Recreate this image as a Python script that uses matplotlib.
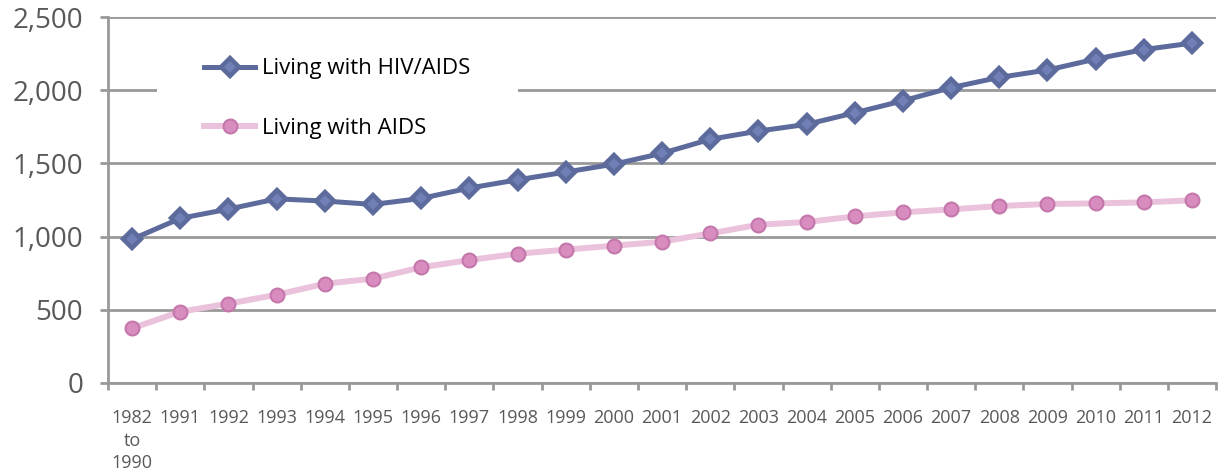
import matplotlib.pyplot as plt
from matplotlib.patches import Rectangle

years = ["1982\nto\n1990"] + [str(y) for y in range(1991, 2013)]
hiv_aids = [982, 1125, 1188, 1258, 1243, 1220, 1261, 1332, 1388, 1441, 1495, 1569,
            1665, 1721, 1767, 1846, 1928, 2018, 2088, 2138, 2213, 2278, 2322]
aids = [374, 487, 542, 603, 678, 713, 790, 840, 883, 911, 938, 965,
        1022, 1081, 1100, 1138, 1166, 1186, 1209, 1223, 1227, 1234, 1248]

plt.rcParams['font.family'] = ['Open Sans', 'DejaVu Sans']

fig = plt.figure(figsize=(12.21, 4.74), dpi=100)
ax = fig.add_axes([0.0885, 0.192, 0.9075, 0.772])

x = list(range(len(years)))
ax.plot(x, hiv_aids, color='#5d6b9c', lw=3.6, marker='D', ms=9,
        mfc='#7080b6', mec='#5d6b9c', mew=3.2, label='Living with HIV/AIDS', zorder=3)
ax.plot(x, aids, color='#ebc2dc', lw=4.3, marker='o', ms=10,
        mfc='#d88cbf', mec='#c477ab', mew=1.5, label='Living with AIDS', zorder=3)

ax.set_xlim(-0.5, len(years) - 0.5)
ax.set_ylim(0, 2500)
ax.set_yticks(range(0, 2501, 500))
ax.set_yticklabels([f"{v:,}" for v in range(0, 2501, 500)])
ax.set_xticks(x)
ax.set_xticklabels(years, linespacing=1.3)
ax.set_xticks([i - 0.5 for i in range(len(years) + 1)], minor=True)

ax.set_axisbelow(True)
ax.grid(axis='y', color='#999999', lw=2)
for s in ['top', 'right']:
    ax.spines[s].set_visible(False)
for s in ['left', 'bottom']:
    ax.spines[s].set_color('#999999')
    ax.spines[s].set_linewidth(2)

ax.tick_params(axis='y', length=6, width=2, color='#999999', labelsize=20,
               labelcolor='#595959', pad=12)
ax.tick_params(axis='x', which='major', length=0, labelsize=13,
               labelcolor='#595959', pad=19)
ax.tick_params(axis='x', which='minor', length=5, width=2, color='#999999')

# white box behind the legend
ax.add_patch(Rectangle((0.0442, 0.637), 0.326, 0.286, transform=ax.transAxes,
                       facecolor='white', edgecolor='none', zorder=1))
ax.legend(loc='upper left', bbox_to_anchor=(0.0866, 0.887), frameon=False,
          fontsize=16, handlelength=2.3, handletextpad=0.3, labelspacing=1.72,
          borderpad=0, borderaxespad=0)

fig.savefig('out.png', dpi=100)
